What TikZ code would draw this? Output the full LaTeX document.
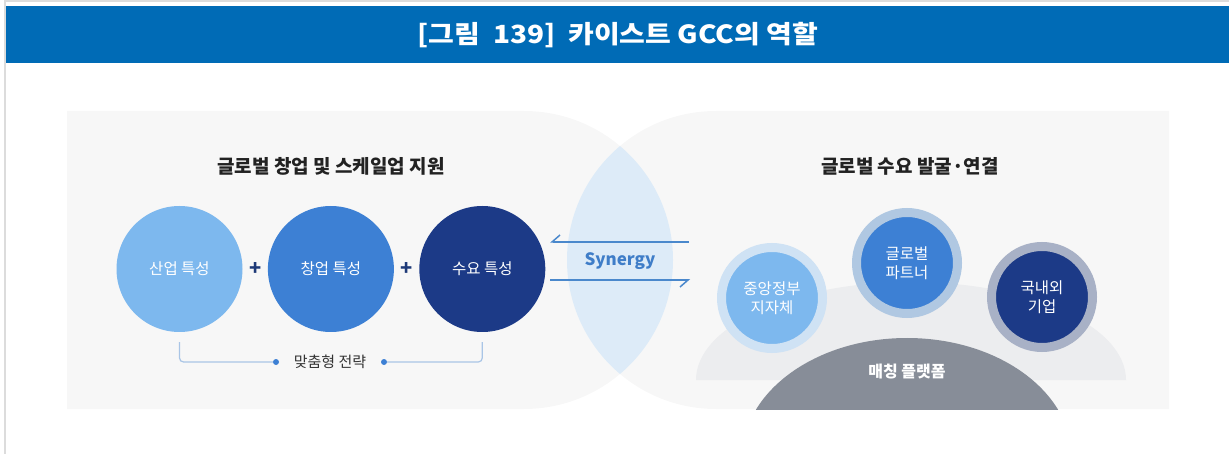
\documentclass[tikz,border=0pt]{standalone}
\usepackage{fontspec}
\setmainfont{Noto Sans CJK KR}
\newfontfamily\hdrfont{Noto Sans CJK KR}[FakeStretch=1.12]
\usetikzlibrary{arrows.meta, positioning, calc}
\definecolor{hdrblue}{HTML}{006BB6}
\definecolor{framegray}{HTML}{DCDCDC}
\definecolor{panelgray}{HTML}{F7F7F7}
\definecolor{lensblue}{HTML}{DDEBF8}
\definecolor{sky}{HTML}{7DB8EE}
\definecolor{midblue}{HTML}{3D80D4}
\definecolor{navy}{HTML}{1C3A87}
\definecolor{ringsky}{HTML}{CFE2F4}
\definecolor{ringmid}{HTML}{B0C8E2}
\definecolor{ringnavy}{HTML}{A8B1C6}
\definecolor{plusnavy}{HTML}{1E3A78}
\definecolor{linkblue}{HTML}{4A88CC}
\definecolor{synblue}{HTML}{3F7DC8}
\definecolor{bracketblue}{HTML}{A9C5E6}
\definecolor{platgray}{HTML}{878D98}
\definecolor{arcgray}{HTML}{ECEDEF}
\definecolor{titlegray}{HTML}{222222}
\definecolor{textgray}{HTML}{333333}
\tikzset{
    circ_sky/.style={circle, fill=sky, minimum size=126pt, inner sep=0pt, text=white, font=\fontsize{15.5}{19}\selectfont},
    circ_mid/.style={circ_sky, fill=midblue},
    circ_navy/.style={circ_sky, fill=navy},
    ring_sky/.style={circle, draw=ringsky, line width=9pt, fill=sky, minimum size=101pt, inner sep=0pt, text=white, align=center, font=\fontsize{15.5}{19}\selectfont},
    ring_mid/.style={ring_sky, draw=ringmid, fill=midblue},
    ring_navy/.style={ring_sky, draw=ringnavy, fill=navy},
    plus_sign/.style={text=plusnavy, font=\bfseries\fontsize{20}{20}\selectfont},
    head_title/.style={font=\bfseries\fontsize{19}{22}\selectfont, text=titlegray},
    syn_arrow/.style={linkblue, line width=1.5pt, -{Straight Barb[harpoon, swap, length=8pt, width=14pt]}},
    bracket_line/.style={bracketblue, line width=1.2pt, rounded corners=4pt},
    end_dot/.style={circle, fill=midblue, minimum size=6pt, inner sep=0pt}
}

\begin{document}
\begin{tikzpicture}[x=1pt, y=-1pt]
    \useasboundingbox (0,0) rectangle (1229,454);
    % frame and header
    \draw[framegray, line width=2pt] (4.5,0) -- (4.5,454);
    \draw[framegray, line width=1.5pt] (4.5,1) -- (1229,1);
    \fill[hdrblue] (6,6) rectangle (1229,63);
    \node[font=\hdrfont\bfseries\fontsize{25}{29}\selectfont, text=white] (fig_title) at (618,35) {[그림\ \ 139]\ \ 카이스트 GCC의 역할};

    % two panels and the overlap
    \fill[panelgray] (67,111) -- (524,111) arc[start angle=-90, end angle=90, radius=149] -- (67,409) -- cycle;
    \fill[panelgray] (1169,111) -- (716,111) arc[start angle=-90, end angle=-270, radius=149] -- (1169,409) -- cycle;
    \begin{scope}
        \clip (67,111) -- (524,111) arc[start angle=-90, end angle=90, radius=149] -- (67,409) -- cycle;
        \fill[lensblue] (716,260) circle[radius=149];
    \end{scope}
    \begin{scope}
        \clip (560,111) rectangle (1169,409);
        \fill[arcgray] (696,380) arc[start angle=180, end angle=360, x radius=215, y radius=98] -- cycle;
        \fill[platgray] (742,458) arc[start angle=180, end angle=360, x radius=165, y radius=120] -- cycle;
    \end{scope}

    % left side
    \node[head_title] (left_title) at (331,166) {글로벌 창업 및 스케일업 지원};
    \node[circ_sky] (industry) at (179.5,269) {산업 특성};
    \node[circ_mid, right=25pt of industry] (startup) {창업 특성};
    \node[circ_navy, right=25pt of startup] (demand) {수요 특성};
    \node[plus_sign] (plus_a) at ($(industry.east)!0.5!(startup.west)$) {+};
    \node[plus_sign] (plus_b) at ($(startup.east)!0.5!(demand.west)$) {+};

    \coordinate (brk_l) at ($(industry.south)+(0,10)$);
    \coordinate (brk_r) at ($(demand.south)+(0,10)$);
    \node[end_dot] (dot_l) at (276,362) {};
    \node[end_dot] (dot_r) at (384,362) {};
    \node[font=\fontsize{15}{18}\selectfont, text=textgray] (strategy) at (330,362) {맞춤형 전략};
    \draw[bracket_line] (brk_l) |- (dot_l);
    \draw[bracket_line] (brk_r) |- (dot_r);

    % synergy
    \node[font=\bfseries\fontsize{17}{20}\selectfont, text=synblue] (synergy) at (620,261) {Synergy};
    \coordinate (up_from) at (689,242);
    \coordinate (up_to) at (550,242);
    \coordinate (low_from) at (550,280);
    \coordinate (low_to) at (690,280);
    \draw[syn_arrow] (up_from) -- (up_to);
    \draw[syn_arrow] (low_from) -- (low_to);

    % right side
    \node[head_title] (right_title) at (910,166) {글로벌 수요 발굴·연결};
    \node[ring_sky] (gov) at (772,298) {중앙정부\\지자체};
    \node[ring_mid] (partner) at (907,263) {글로벌\\파트너};
    \node[ring_navy] (corp) at (1042,297) {국내외\\기업};
    \node[font=\bfseries\fontsize{16}{19}\selectfont, text=white] (platform) at (907,372) {매칭 플랫폼};
\end{tikzpicture}
\end{document}
